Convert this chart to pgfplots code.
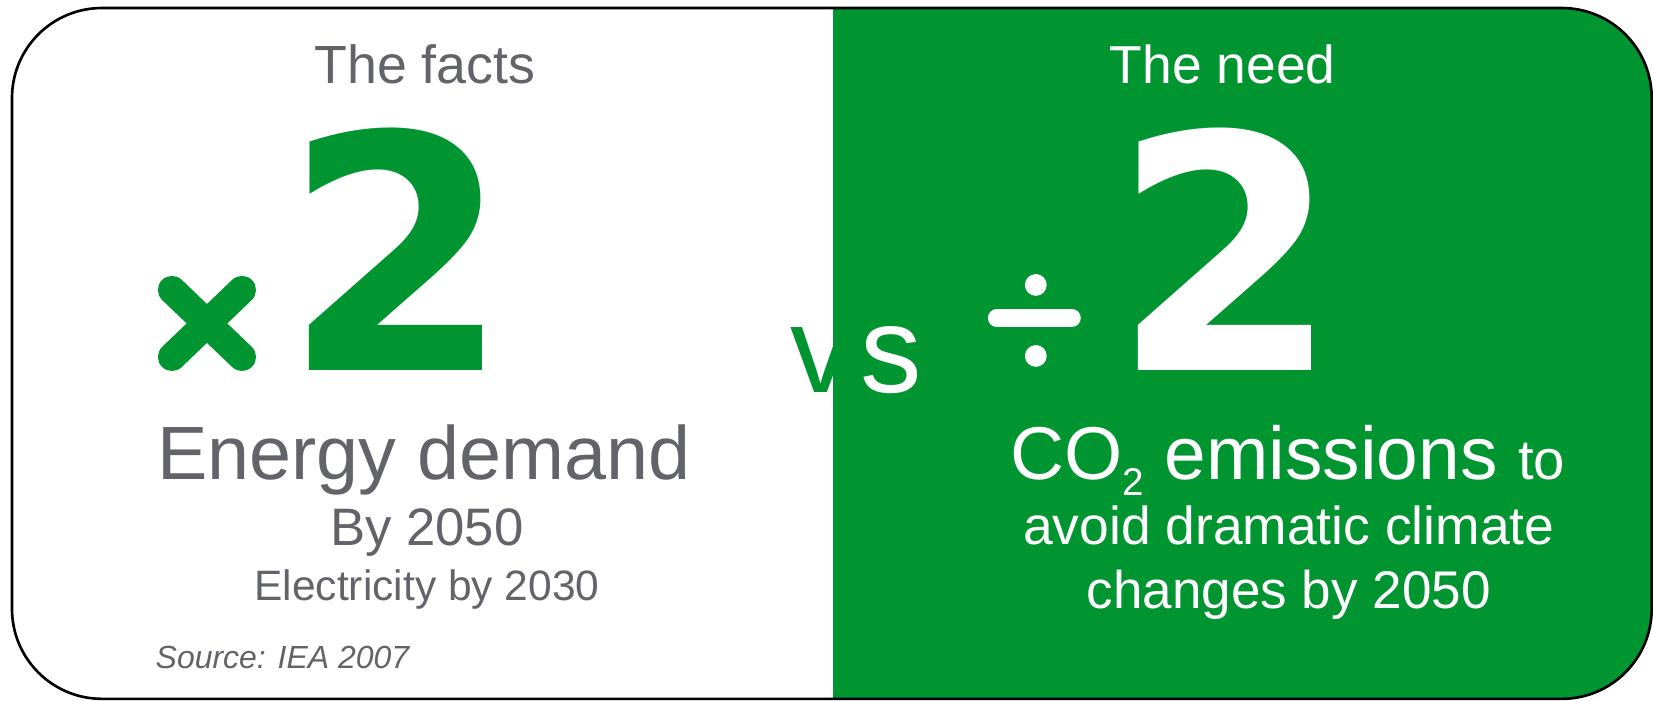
\documentclass[border=0pt]{standalone}
\usepackage{pgfplots}
\pgfplotsset{compat=1.18}
\usepackage{fontspec}
\setmainfont{Liberation Sans}
\newfontfamily\bigfont{DejaVu Sans}
\definecolor{segreen}{RGB}{0,149,48}
\definecolor{segray}{RGB}{99,100,106}
\newcommand{\fs}[1]{\fontsize{#1}{#1}\selectfont}
\begin{document}
\begin{tikzpicture}
\begin{axis}[width=16.53cm,height=7cm,scale only axis,
  xmin=0,xmax=1653,ymin=0,ymax=700,y dir=reverse,hide axis,clip=false]
\path (axis cs:0,0) rectangle (axis cs:1653,700);
% green panel clipped by rounded frame
\begin{scope}
\clip[rounded corners=25.6pt] (axis cs:12,8) rectangle (axis cs:1652,699);
\fill[segreen] (axis cs:833,0) rectangle (axis cs:1653,700);
\end{scope}
\draw[black,line width=0.75pt,rounded corners=25.6pt] (axis cs:12,8) rectangle (axis cs:1652,699);
% headings
\node[anchor=base,inner sep=0,text=segray] at (axis cs:425,84) {\fs{15.3pt}The facts};
\node[anchor=base,inner sep=0,text=white] at (axis cs:1223,84) {\fs{15.2pt}The need};
% x 2
\draw[segreen,line width=8pt,line cap=round] (axis cs:172,290) -- (axis cs:242,357);
\draw[segreen,line width=8pt,line cap=round] (axis cs:242,290) -- (axis cs:172,357);
\node[anchor=base,inner sep=0,text=segreen] at (axis cs:397,371) {\scalebox{1.0}[1]{\bigfont\bfseries\fs{93pt}2}};
% div 2
\draw[white,line width=5.1pt,line cap=round] (axis cs:997,318) -- (axis cs:1072,318);
\fill[white] (axis cs:1036,285) circle[radius=3.1pt];
\fill[white] (axis cs:1036,356) circle[radius=3.1pt];
\node[anchor=base,inner sep=0,text=white] at (axis cs:1226,371) {\scalebox{1.0}[1]{\bigfont\bfseries\fs{93pt}2}};
% vs : green v (hidden on the green panel), white s
\node[anchor=base west,inner sep=0] at (axis cs:790,393) {\fs{35pt}\textcolor{segreen}{v}\kern2.5pt\textcolor{white}{s}};
% left texts
\node[anchor=base,inner sep=0,text=segray] at (axis cs:424,480) {\fs{21.5pt}Energy demand};
\node[anchor=base,inner sep=0,text=segray] at (axis cs:427,546) {\fs{15pt}By 2050};
\node[anchor=base,inner sep=0,text=segray] at (axis cs:427,601) {\fs{12.1pt}Electricity by 2030};
\node[anchor=base west,inner sep=0,text=segray] at (axis cs:155,669) {\fs{9.1pt}\itshape Source: IEA 2007};
% right texts
\node[anchor=base,inner sep=0,text=white] at (axis cs:1288,480) {\fs{21.3pt}CO\raisebox{-4.5pt}{\fs{11pt}2} emissions {\fs{16pt}to}};
\node[anchor=base,inner sep=0,text=white] at (axis cs:1289,545) {\fs{15.2pt}avoid dramatic climate};
\node[anchor=base,inner sep=0,text=white] at (axis cs:1289,609) {\fs{15.1pt}changes by 2050};
\end{axis}
\end{tikzpicture}
\end{document}
